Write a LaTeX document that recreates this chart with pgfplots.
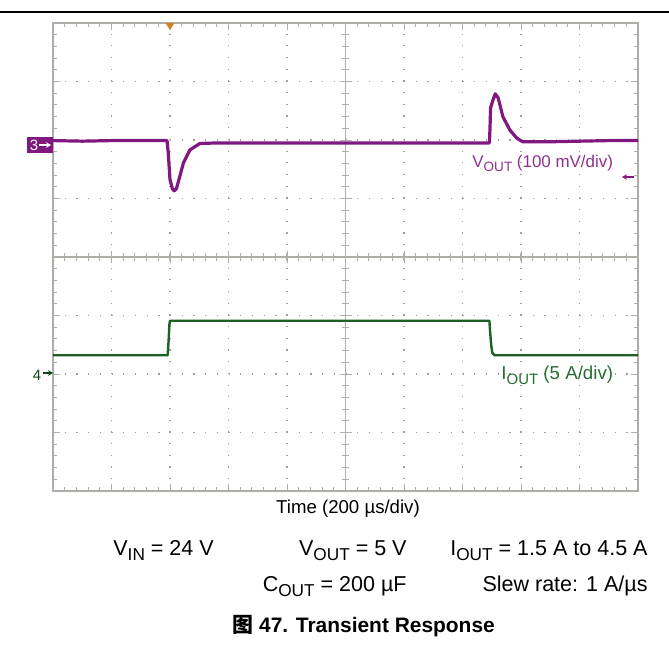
\documentclass[border=0pt]{standalone}
\usepackage{pgfplots}
\pgfplotsset{compat=1.18}
\usepackage{fontspec}
\setmainfont{Liberation Sans}
\newfontfamily\cjk{Noto Sans CJK SC}
\usepackage{graphicx}
\usetikzlibrary{arrows.meta}
\definecolor{vpurple}{RGB}{128,24,128}
\definecolor{vlabel}{RGB}{140,50,140}
\definecolor{igreen}{RGB}{28,96,36}
\definecolor{ilabel}{RGB}{40,110,50}
\definecolor{gridgray}{RGB}{175,175,170}
\definecolor{trig}{RGB}{205,130,40}
\newcommand{\sub}[1]{\raisebox{-0.22em}{\scalebox{0.8}{#1}}}

\begin{document}
\begin{tikzpicture}
\useasboundingbox (0,0) rectangle (334.5bp,-324.5bp);
\begin{axis}[
 at={(26.5bp,-245.5bp)}, anchor=south west,
 width=292.5bp, height=234bp, scale only axis,
 xmin=0,xmax=10,ymin=0,ymax=8,
 xtick={0,...,10}, ytick={0,...,8},
 minor x tick num=4, minor y tick num=4,
 xticklabels={}, yticklabels={},
 tick align=inside, major tick length=3.5bp, minor tick length=2bp,
 every tick/.style={gridgray, line width=0.5bp},
 axis line style={gridgray, line width=0.7bp},
 xmajorgrids, ymajorgrids,
 major grid style={gridgray!90!black, line width=0.6bp, dash pattern=on 0.6bp off 5.25bp},
 clip=false,
]
\draw[gridgray, line width=0.6bp] (axis cs:5,0) -- (axis cs:5,8);
\draw[gridgray, line width=0.6bp] (axis cs:0,4) -- (axis cs:10,4);
\pgfplotsinvokeforeach{0.2,0.4,...,9.8}{\draw[gridgray,line width=0.5bp] (axis cs:#1,4) ++(0,-1.8bp) -- ++(0,3.6bp);}
\pgfplotsinvokeforeach{0.2,0.4,...,7.8}{\draw[gridgray,line width=0.5bp] (axis cs:5,#1) ++(-1.8bp,0) -- ++(3.6bp,0);}
\pgfplotsinvokeforeach{1,...,9}{\draw[gridgray,line width=0.5bp] (axis cs:#1,4) ++(0,-3bp) -- ++(0,6bp);}
\pgfplotsinvokeforeach{1,...,7}{\draw[gridgray,line width=0.5bp] (axis cs:5,#1) ++(-3bp,0) -- ++(6bp,0);}

% V_OUT trace (div units)
\addplot[vpurple, line width=1.6bp, line join=round] coordinates {
(0,5.99) (0.5,5.98) (1.0,5.99) (1.5,5.99) (1.95,5.99) (1.97,5.78) (2.0,5.32) (2.04,5.17) (2.07,5.13)
(2.11,5.17) (2.16,5.35) (2.23,5.61) (2.34,5.83) (2.51,5.94) (2.8,5.95) (3.5,5.95) (4,5.95)
(5,5.95) (6,5.95) (7,5.95) (7.46,5.95) (7.47,6.2) (7.48,6.55) (7.52,6.68) (7.56,6.79)
(7.61,6.72) (7.69,6.40) (7.81,6.17) (7.93,6.03) (8.03,5.97) (8.5,5.97) (9,5.98) (9.5,5.99) (10,5.99)
};
% I_OUT trace
\addplot[igreen, line width=1.2bp, line join=round] coordinates {
(0,2.32) (1.0,2.32) (1.96,2.32) (1.975,2.55) (1.99,2.85) (2.0,2.91) (4,2.91) (7.46,2.91)
(7.47,2.75) (7.49,2.5) (7.51,2.36) (7.55,2.32) (9,2.32) (10,2.32)
};
\end{axis}

\begin{scope}[x=0.5bp,y=-0.5bp]
\draw[line width=0.8bp] (0,12) -- (669,12);
% trigger marker
\fill[trig] (165.5,23) -- (174.5,23) -- (170,30) -- cycle;
% channel 3 marker
\fill[vpurple] (27,137) rectangle (53,153);
\node[white, font=\fontsize{7.5}{8}\selectfont, inner sep=0] at (34,145.5) {3};
\draw[white, line width=0.6bp, -{Stealth[length=2.5bp,width=2.8bp]}] (39,145) -- (51,145);
% channel 4 marker
\node[igreen!70!black, font=\fontsize{7.5}{8}\selectfont, inner sep=0] at (37,375) {4};
\draw[igreen!70!black, line width=0.6bp, -{Stealth[length=2.5bp,width=2.8bp]}] (43,373) -- (53,373);
% vout offset arrow
\draw[vpurple, line width=0.6bp, -{Stealth[length=2.5bp,width=2.8bp]}] (634,177) -- (622,177);

\node[anchor=base west, text=vlabel, font=\fontsize{8.5}{10}\selectfont, inner sep=0] at (472,168) {V\sub{OUT} (100 mV/div)};
\node[anchor=base west, text=ilabel, font=\fontsize{9.4}{10}\selectfont, inner sep=0] at (501,380) {I\sub{OUT} (5 A/div)};
\node[anchor=base, font=\fontsize{9.35}{10}\selectfont, inner sep=0] at (348,514) {Time (200 µs/div)};

\node[anchor=base west, font=\fontsize{10.8}{11}\selectfont, inner sep=0] at (113,556) {V\sub{IN} = 24 V};
\node[anchor=base east, font=\fontsize{10.8}{11}\selectfont, inner sep=0] at (407,556) {V\sub{OUT} = 5 V};
\node[anchor=base east, font=\fontsize{10.8}{11}\selectfont, inner sep=0] at (648,556) {I\sub{OUT} = 1.5 A to 4.5 A};
\node[anchor=base east, font=\fontsize{10.8}{11}\selectfont, inner sep=0] at (407,592) {C\sub{OUT} = 200 µF};
\node[anchor=base east, font=\fontsize{10.8}{11}\selectfont, inner sep=0] at (648,592) {Slew rate: 1 A/µs};
\node[anchor=base west, font=\bfseries\fontsize{10.5}{12}\selectfont, inner sep=0] at (232,633) {{\cjk\bfseries 图} 47. Transient Response};
\end{scope}
\end{tikzpicture}
\end{document}
